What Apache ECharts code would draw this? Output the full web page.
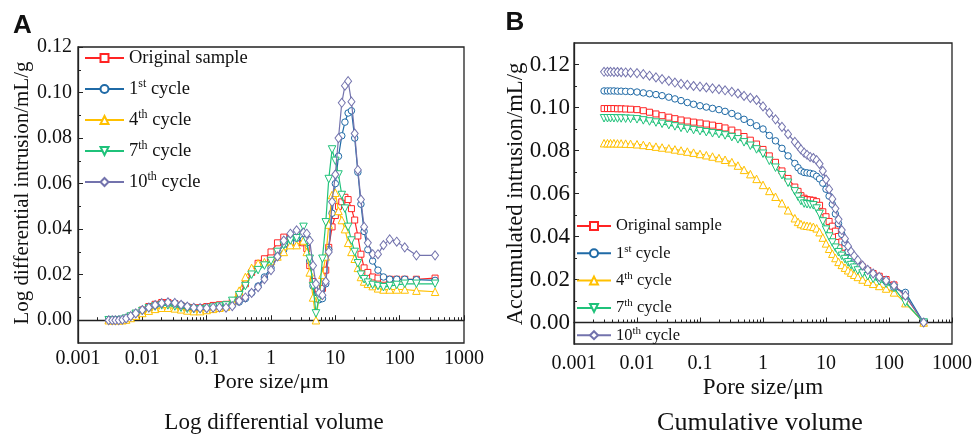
<!DOCTYPE html>
<html>
<head>
<meta charset="utf-8">
<script src="https://cdn.jsdelivr.net/npm/echarts@6/dist/echarts.min.js"></script>
<style>
  html, body { margin: 0; padding: 0; background: #fff; }
  #main { width: 975px; height: 437px; }
</style>
</head>
<body>
<div id="main"></div>
<script>
// pore sizes (um), shared by both panels
var poreSize = [
  0.0030, 0.0034, 0.0038, 0.0043, 0.0049, 0.0056, 0.0066, 0.0079,
  0.010, 0.0126, 0.0158, 0.020, 0.025, 0.032, 0.040, 0.050, 0.063, 0.079,
  0.10, 0.126, 0.158, 0.20, 0.25, 0.32, 0.40, 0.50, 0.63, 0.79,
  1.0, 1.26, 1.58, 2.0, 2.5, 3.2, 3.6, 4.0, 4.5, 5.0,
  5.6, 6.3, 7.1, 7.9, 8.9, 10, 11.2, 12.6, 14.1, 15.8,
  17.8, 20, 22.4, 25, 28, 32, 38, 46, 56, 70,
  90, 120, 182, 355
];

// A: log differential intrusion (mL/g)
var diffOriginal = [
  0, 0, 0, 0, 0.0003, 0.0008, 0.0018, 0.003,
  0.0045, 0.006, 0.007, 0.0078, 0.0078, 0.0073, 0.0065, 0.0058, 0.0055, 0.0055,
  0.006, 0.0065, 0.0068, 0.007, 0.008, 0.011, 0.016, 0.021, 0.025, 0.027,
  0.030, 0.034, 0.0365, 0.036, 0.034, 0.034, 0.0315, 0.024, 0.017, 0.011,
  0.0105, 0.014, 0.022, 0.032, 0.041, 0.046, 0.050, 0.052, 0.054, 0.053,
  0.049, 0.044, 0.037, 0.029, 0.023, 0.021, 0.019, 0.0185, 0.018, 0.018,
  0.018, 0.018, 0.018, 0.0185
];
var diffCycle1 = [
  0, 0, 0, 0, 0.0002, 0.0007, 0.0016, 0.0028,
  0.004, 0.0052, 0.0065, 0.0073, 0.0076, 0.0075, 0.0068, 0.006, 0.0055, 0.0053,
  0.0053, 0.0055, 0.0056, 0.0058, 0.0065, 0.008, 0.0095, 0.012, 0.015, 0.019,
  0.023, 0.028, 0.031, 0.034, 0.036, 0.0355, 0.034, 0.026, 0.015, 0.0095,
  0.009, 0.0095, 0.016, 0.031, 0.047, 0.060, 0.072, 0.081, 0.087, 0.091,
  0.092, 0.080, 0.065, 0.051, 0.039, 0.031, 0.026, 0.022, 0.019, 0.018,
  0.018, 0.018, 0.0178, 0.0175
];
var diffCycle4 = [
  0, 0, 0, 0, 0, 0.0003, 0.001, 0.002,
  0.0032, 0.0042, 0.005, 0.0055, 0.0055, 0.0052, 0.0048, 0.0043, 0.004, 0.004,
  0.0045, 0.005, 0.0055, 0.006, 0.0085, 0.013, 0.019, 0.023, 0.025, 0.0255,
  0.026, 0.028, 0.030, 0.033, 0.033, 0.035, 0.030, 0.021, 0.010, 0.0,
  0.011, 0.020, 0.028, 0.042, 0.055, 0.056, 0.048, 0.044, 0.040, 0.034,
  0.030, 0.027, 0.023, 0.019, 0.017, 0.016, 0.015, 0.014, 0.0135, 0.0135,
  0.0135, 0.0135, 0.013, 0.0125
];
var diffCycle7 = [
  0, 0, 0, 0, 0.0002, 0.0007, 0.0016, 0.0028,
  0.004, 0.0052, 0.006, 0.0065, 0.0065, 0.006, 0.0055, 0.005, 0.0048, 0.0048,
  0.005, 0.0055, 0.006, 0.0065, 0.0085, 0.011, 0.015, 0.020, 0.022, 0.024,
  0.026, 0.030, 0.033, 0.035, 0.036, 0.041, 0.035, 0.027, 0.015, 0.003,
  0.010, 0.027, 0.043, 0.062, 0.075, 0.070, 0.064, 0.055, 0.049, 0.041,
  0.035, 0.030, 0.025, 0.020, 0.018, 0.0165, 0.0155, 0.015, 0.0145, 0.015,
  0.0155, 0.016, 0.016, 0.016
];
var diffCycle10 = [
  0, 0, 0, 0, 0.0002, 0.0008, 0.0018, 0.003,
  0.0045, 0.0056, 0.0067, 0.0075, 0.0079, 0.0076, 0.0068, 0.006, 0.0055, 0.0053,
  0.0053, 0.0055, 0.0056, 0.0055, 0.0062, 0.0085, 0.010, 0.012, 0.0145, 0.018,
  0.022, 0.028, 0.035, 0.038, 0.0395, 0.0385, 0.038, 0.035, 0.024, 0.016,
  0.012, 0.011, 0.017, 0.030, 0.052, 0.064, 0.080, 0.0955, 0.103, 0.105,
  0.096, 0.082, 0.066, 0.053, 0.041, 0.034, 0.029, 0.029, 0.033, 0.0355,
  0.0345, 0.032, 0.0285, 0.0285
];

// B: accumulated intrusion (mL/g)
var cumOriginal = [
  0.0995, 0.0995, 0.0995, 0.0995, 0.0994, 0.0994, 0.0993, 0.0992,
  0.0990, 0.0985, 0.0978, 0.0970, 0.0962, 0.0955, 0.0948, 0.0942, 0.0937, 0.0932,
  0.0928, 0.0923, 0.0918, 0.0912, 0.0905, 0.0895, 0.0882, 0.0865, 0.0848, 0.0830,
  0.0805, 0.0775, 0.0745, 0.0705, 0.0670, 0.0630, 0.0610, 0.0590, 0.0578, 0.0572,
  0.0570, 0.0568, 0.0562, 0.0545, 0.0515, 0.0492, 0.0470, 0.0448, 0.0425, 0.0400,
  0.0375, 0.0350, 0.0325, 0.0305, 0.0290, 0.0275, 0.0258, 0.0242, 0.0228, 0.0215,
  0.0200, 0.0175, 0.0122, 0
];
var cumCycle1 = [
  0.1077, 0.1077, 0.1077, 0.1077, 0.1076, 0.1076, 0.1075, 0.1074,
  0.1072, 0.1068, 0.1064, 0.1060, 0.1055, 0.1048, 0.1040, 0.1032, 0.1023, 0.1015,
  0.1008, 0.1002, 0.0996, 0.0990, 0.0982, 0.0972, 0.0960, 0.0945, 0.0930, 0.0915,
  0.0900, 0.0870, 0.0845, 0.0810, 0.0775, 0.0740, 0.0720, 0.0705, 0.0698, 0.0696,
  0.0694, 0.0690, 0.0680, 0.0668, 0.0648, 0.0620, 0.0588, 0.0550, 0.0505, 0.0460,
  0.0410, 0.0370, 0.0330, 0.0300, 0.0278, 0.0262, 0.0245, 0.0230, 0.0217, 0.0205,
  0.0190, 0.0160, 0.0140, 0
];
var cumCycle4 = [
  0.0834, 0.0834, 0.0834, 0.0834, 0.0833, 0.0833, 0.0832, 0.0831,
  0.0829, 0.0826, 0.0822, 0.0818, 0.0814, 0.0810, 0.0805, 0.0800, 0.0795, 0.0790,
  0.0784, 0.0778, 0.0772, 0.0765, 0.0757, 0.0746, 0.0730, 0.0710, 0.0690, 0.0668,
  0.0640, 0.0612, 0.0585, 0.0555, 0.0522, 0.0485, 0.0468, 0.0458, 0.0452, 0.0450,
  0.0448, 0.0445, 0.0438, 0.0420, 0.0395, 0.0368, 0.0343, 0.0320, 0.0300, 0.0282,
  0.0268, 0.0255, 0.0243, 0.0232, 0.0222, 0.0212, 0.0200, 0.0190, 0.0180, 0.0170,
  0.0158, 0.0140, 0.0090, 0
];
var cumCycle7 = [
  0.0950, 0.0950, 0.0950, 0.0950, 0.0949, 0.0949, 0.0948, 0.0947,
  0.0945, 0.0940, 0.0935, 0.0930, 0.0924, 0.0918, 0.0912, 0.0905, 0.0900, 0.0895,
  0.0890, 0.0885, 0.0880, 0.0876, 0.0870, 0.0862, 0.0852, 0.0838, 0.0822, 0.0805,
  0.0785, 0.0752, 0.0720, 0.0685, 0.0650, 0.0610, 0.0585, 0.0565, 0.0553, 0.0550,
  0.0548, 0.0545, 0.0530, 0.0505, 0.0470, 0.0432, 0.0400, 0.0372, 0.0348, 0.0327,
  0.0310, 0.0295, 0.0280, 0.0267, 0.0255, 0.0242, 0.0228, 0.0215, 0.0203, 0.0192,
  0.0180, 0.0160, 0.0093, 0
];
var cumCycle10 = [
  0.1166, 0.1166, 0.1166, 0.1165, 0.1165, 0.1164, 0.1163, 0.1162,
  0.1160, 0.1155, 0.1148, 0.1140, 0.1132, 0.1124, 0.1116, 0.1110, 0.1105, 0.1100,
  0.1097, 0.1093, 0.1089, 0.1085, 0.1080, 0.1073, 0.1065, 0.1054, 0.1045, 0.1035,
  0.1005, 0.0975, 0.0945, 0.0910, 0.0876, 0.0840, 0.0822, 0.0805, 0.0790, 0.0780,
  0.0770, 0.0765, 0.0755, 0.0738, 0.0705, 0.0665, 0.0620, 0.0575, 0.0530, 0.0480,
  0.0430, 0.0390, 0.0355, 0.0330, 0.0310, 0.0290, 0.0265, 0.0245, 0.0228, 0.0212,
  0.0195, 0.0172, 0.0125, 0
];

var seriesNames = ['Original sample', '1st cycle', '4th cycle', '7th cycle', '10th cycle'];
var legendLabels = ['Original sample', '1{sup|st} cycle', '4{sup|th} cycle', '7{sup|th} cycle', '10{sup|th} cycle'];
var yTicks = [0, 0.02, 0.04, 0.06, 0.08, 0.10, 0.12];
var yMinorTicksA = [0.01, 0.03, 0.05, 0.07, 0.09, 0.11];
var yMinorTicksB = [0.01, 0.03, 0.05, 0.07, 0.09, 0.11];

var colors = ['#FF2424', '#1F6AA6', '#FFC000', '#1FC27A', '#7373AD'];
var symbols = ['rect', 'circle', 'triangle', 'triangle', 'diamond'];
var symbolRot = [0, 0, 0, 180, 0];
var symbolSizes = [6, 6.5, 7.5, 7.5, [7, 9]];

var serif = '"Liberation Serif", "Times New Roman", serif';
var ink = '#111';

var chart = echarts.init(document.getElementById('main'));

function pairs(ys) {
  return poreSize.map(function (x, i) { return [x, ys[i]]; });
}

function makeSeries(lists, xIdx, yIdx) {
  return lists.map(function (ys, k) {
    return {
      name: seriesNames[k],
      type: 'line',
      xAxisIndex: xIdx,
      yAxisIndex: yIdx,
      data: pairs(ys),
      symbol: symbols[k],
      symbolRotate: symbolRot[k],
      symbolSize: symbolSizes[k],
      showAllSymbol: true,
      lineStyle: { color: colors[k], width: 1.2 },
      itemStyle: { color: '#fff', borderColor: colors[k], borderWidth: 1 },
      emphasis: { disabled: true },
      z: 2 + k
    };
  });
}

function logX(grid, fontSize, margin) {
  return {
    type: 'log', logBase: 10, gridIndex: grid, min: 0.001, max: 1000,
    axisLine: { lineStyle: { color: '#222', width: 1.3 } },
    axisTick: { inside: true, length: 5, lineStyle: { color: '#222' } },
    minorTick: { show: true, splitNumber: 9, length: 3, lineStyle: { color: '#222' } },
    axisLabel: {
      fontFamily: serif, fontSize: fontSize, color: ink, margin: margin,
      showMinLabel: true, showMaxLabel: true,
      formatter: function (v) { return String(+(+v).toPrecision(4)); }
    },
    splitLine: { show: false }
  };
}

function valY(grid, max, fontSize, margin) {
  return {
    type: 'value', gridIndex: grid, position: 'left', min: -0.01, max: max,
    axisLine: { show: true, lineStyle: { color: '#222', width: 1.3 } },
    axisTick: { inside: true, length: 5, customValues: yTicks, lineStyle: { color: '#222' } },
    axisLabel: {
      customValues: yTicks, fontFamily: serif, fontSize: fontSize, color: ink, margin: margin,
      formatter: function (v) { return (+v).toFixed(2); }
    },
    splitLine: { show: false }
  };
}

function minorY(grid, max, ticks) {
  return {
    type: 'value', gridIndex: grid, position: 'left', min: -0.01, max: max,
    axisLine: { show: false },
    axisTick: { inside: true, length: 3, customValues: ticks, lineStyle: { color: '#222' } },
    axisLabel: { show: false },
    splitLine: { show: false }
  };
}

function legendFor(left, top, itemW, fontSize, lineH, gap) {
  return {
    orient: 'vertical', left: left, top: top, padding: 0,
    itemWidth: itemW, itemHeight: 10, itemGap: gap,
    selectedMode: false,
    data: seriesNames,
    formatter: function (name) { return legendLabels[seriesNames.indexOf(name)]; },
    textStyle: {
      fontFamily: serif, fontSize: fontSize, color: ink, lineHeight: lineH,
      rich: { sup: { fontFamily: serif, fontSize: Math.round(fontSize * 0.65), lineHeight: 13, verticalAlign: 'top', color: ink } }
    }
  };
}

function label(text, x, y, font, rot) {
  return {
    type: 'text', x: x, y: y, rotation: rot || 0,
    style: {
      text: text, font: font, fill: ink,
      textAlign: 'center', textVerticalAlign: 'middle',
      align: 'center', verticalAlign: 'middle'
    }
  };
}

var option = {
  animation: false,
  backgroundColor: '#fff',
  grid: [
    { left: 78, top: 47, width: 386, height: 296, show: true, borderColor: '#222', borderWidth: 1.3, containLabel: false },
    { left: 574, top: 43, width: 378, height: 301, show: true, borderColor: '#222', borderWidth: 1.3, containLabel: false }
  ],
  xAxis: [logX(0, 20, 6), logX(1, 20, 10)],
  yAxis: [valY(0, 0.12, 20, 6), minorY(0, 0.12, yMinorTicksA), valY(1, 0.13, 23, 4), minorY(1, 0.13, yMinorTicksB)],
  legend: [
    legendFor(84, 47, 39, 18.5, 22, 9),
    legendFor(576, 216, 34, 16.5, 20, 7.3)
  ],
  graphic: [
    label('A', 22.5, 26, 'bold 26px "Liberation Sans", Arial, sans-serif'),
    label('B', 515, 23, 'bold 26px "Liberation Sans", Arial, sans-serif'),
    label('Log differential intrusion/mL/g', 22.5, 193, '21px ' + serif, Math.PI / 2),
    label('Pore size/\u03bcm', 271, 382, '22px ' + serif),
    label('Accumulated intrusion/mL/g', 516, 194, '22.7px ' + serif, Math.PI / 2),
    label('Pore size/\u03bcm', 763, 388, '23px ' + serif),
    label('Log differential volume', 274, 423, '23px ' + serif),
    label('Cumulative volume', 760, 423, '26px ' + serif)
  ],
  series: makeSeries([diffOriginal, diffCycle1, diffCycle4, diffCycle7, diffCycle10], 0, 0)
    .concat(makeSeries([cumOriginal, cumCycle1, cumCycle4, cumCycle7, cumCycle10], 1, 2))
};

chart.setOption(option);
</script>
</body>
</html>
